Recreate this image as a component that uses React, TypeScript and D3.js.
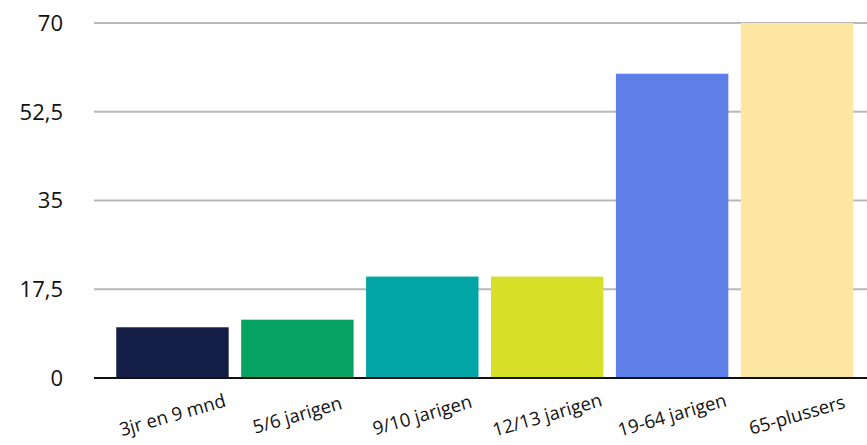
import { useEffect, useRef } from "react";
import * as d3 from "d3";

const categories = ["3jr en 9 mnd", "5/6 jarigen", "9/10 jarigen", "12/13 jarigen", "19-64 jarigen", "65-plussers"];
const values = [10, 11.5, 20, 20, 60, 70];
const colors = ["#141e46", "#05a262", "#02a5a5", "#d7e029", "#5e7ee8", "#fde6a2"];
const yTicks = [0, 17.5, 35, 52.5, 70];
const yTickLabels = ["0", "17,5", "35", "52,5", "70"];

const App = () => {
  const svgRef = useRef<SVGSVGElement>(null);

  useEffect(() => {
    if (!svgRef.current) return;
    const width = 867;
    const height = 445;
    const svg = d3.select(svgRef.current);
    svg.selectAll("*").remove();
    svg.attr("width", width).attr("height", height);

    const font = "'Open Sans', 'Noto Sans', sans-serif";

    const x = d3.scaleBand<string>()
      .domain(categories)
      .range([110, 859.5])
      .paddingInner(0.1)
      .paddingOuter(0.05);

    const y = d3.scaleLinear().domain([0, 70]).range([378, 23]);

    // gridlines
    svg.append("g")
      .selectAll("line")
      .data(yTicks.filter((t) => t > 0))
      .enter()
      .append("line")
      .attr("x1", 94)
      .attr("x2", width)
      .attr("y1", (d) => y(d))
      .attr("y2", (d) => y(d))
      .attr("stroke", "#b8b8b8")
      .attr("stroke-width", 2);

    // y labels
    svg.append("g")
      .selectAll("text")
      .data(yTicks)
      .enter()
      .append("text")
      .attr("x", 63)
      .attr("y", (d) => y(d))
      .attr("dy", "0.36em")
      .attr("text-anchor", "end")
      .attr("font-family", font)
      .attr("font-size", 22)
      .attr("fill", "#111")
      .text((d, i) => yTickLabels[i]);

    // bars
    svg.append("g")
      .selectAll("rect")
      .data(values)
      .enter()
      .append("rect")
      .attr("x", (d, i) => x(categories[i])!)
      .attr("y", (d) => y(d))
      .attr("width", x.bandwidth())
      .attr("height", (d) => y(0) - y(d))
      .attr("fill", (d, i) => colors[i]);

    // baseline
    svg.append("line")
      .attr("x1", 94)
      .attr("x2", width)
      .attr("y1", y(0))
      .attr("y2", y(0))
      .attr("stroke", "#111")
      .attr("stroke-width", 2);

    // x labels
    svg.append("g")
      .selectAll("text")
      .data(categories)
      .enter()
      .append("text")
      .attr("transform", (d) => `translate(${x(d)! + x.bandwidth() / 2},${415}) rotate(-16)`)
      .attr("text-anchor", "middle")
      .attr("dy", "0.35em")
      .attr("font-family", font)
      .attr("font-size", 18.5)
      .attr("fill", "#111")
      .text((d) => d);
  }, []);

  return <svg ref={svgRef} style={{ display: "block", position: "absolute", left: 0, top: 0 }} />;
};

export default App;
